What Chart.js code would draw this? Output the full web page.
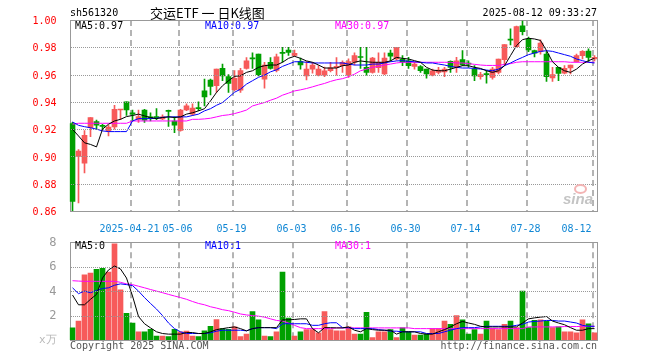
<!DOCTYPE html>
<html><head><meta charset="utf-8">
<script src="https://cdn.jsdelivr.net/npm/chart.js@4.4.1/dist/chart.umd.min.js"></script>
<style>
html,body{margin:0;padding:0;background:#fff;width:660px;height:360px;overflow:hidden;}
#wrap{position:relative;width:660px;height:360px;background:#fff;}
canvas{position:absolute;left:0;}
.t{position:absolute;white-space:pre;font:10px 'DejaVu Sans Mono',monospace;line-height:12px;color:#000;}
#logo{position:absolute;left:574px;top:184px;width:13px;height:10px;border-radius:50%;border:2px solid #f3b4b4;box-sizing:border-box;}
</style></head><body>
<div id="wrap">
<canvas id="pc" width="660" height="232" style="top:0;width:660px;height:232px"></canvas>
<canvas id="vc" width="660" height="130" style="top:230px;width:660px;height:130px"></canvas>
<div class="t" style="left:70px;top:7px;">sh561320</div>
<div class="t" style="left:150px;top:4px;font:13px 'Noto Sans CJK SC',sans-serif;line-height:17px;">交运ETF 一 日K线图</div>
<div class="t" style="right:63px;top:7px;">2025-08-12 09:33:27</div>
<div class="t" id="l1" style="left:75px;top:20px;color:#000;"></div>
<div class="t" id="l2" style="left:205px;top:20px;color:#0000ff;"></div>
<div class="t" id="l3" style="left:335px;top:20px;color:#ff00ff;"></div>
<div class="t" id="v1" style="left:75px;top:240px;color:#000;"></div>
<div class="t" id="v2" style="left:205px;top:240px;color:#0000ff;"></div>
<div class="t" id="v3" style="left:335px;top:240px;color:#ff00ff;"></div>
<div id="logo"></div>
<div class="t" style="left:563px;top:191px;font:italic bold 15px 'Liberation Sans',sans-serif;line-height:16px;color:#c4c4c4;">sina</div>
<div class="t" style="left:70px;top:340px;color:#555;">Copyright 2025 SINA.COM</div>
<div class="t" style="right:63px;top:340px;color:#555;">http://finance.sina.com.cn</div>
</div>
<script>
const dates = ['2025-04-07','2025-04-08','2025-04-09','2025-04-10','2025-04-11','2025-04-14','2025-04-15','2025-04-16','2025-04-17','2025-04-18','2025-04-21','2025-04-22','2025-04-23','2025-04-24','2025-04-25','2025-04-28','2025-04-29','2025-04-30',
'2025-05-06','2025-05-07','2025-05-08','2025-05-09','2025-05-12','2025-05-13','2025-05-14','2025-05-15','2025-05-16','2025-05-19','2025-05-20','2025-05-21','2025-05-22','2025-05-23','2025-05-26','2025-05-27','2025-05-28','2025-05-29','2025-05-30',
'2025-06-03','2025-06-04','2025-06-05','2025-06-06','2025-06-09','2025-06-10','2025-06-11','2025-06-12','2025-06-13','2025-06-16','2025-06-17','2025-06-18','2025-06-19','2025-06-20','2025-06-23','2025-06-24','2025-06-25','2025-06-26','2025-06-27','2025-06-30',
'2025-07-01','2025-07-02','2025-07-03','2025-07-04','2025-07-07','2025-07-08','2025-07-09','2025-07-10','2025-07-11','2025-07-14','2025-07-15','2025-07-16','2025-07-17','2025-07-18','2025-07-21','2025-07-22','2025-07-23','2025-07-24','2025-07-25','2025-07-28','2025-07-29','2025-07-30','2025-07-31',
'2025-08-01','2025-08-04','2025-08-05','2025-08-06','2025-08-07','2025-08-08','2025-08-11','2025-08-12'];

const opens = [0.924,0.900,0.895,0.921,0.9255,0.9225,0.9187,0.9216,0.934,0.940,
0.932,0.9272,0.934,0.929,0.929,0.9275,0.9335,0.926,0.919,0.934,
0.931,0.9355,0.948,0.956,0.9518,0.9645,0.9585,0.949,0.9486,0.9645,
0.972,0.975,0.9567,0.969,0.963,0.9757,0.978,0.974,0.9695,0.959,
0.964,0.9596,0.9596,0.9628,0.965,0.9665,0.960,0.969,0.9728,0.9653,
0.9616,0.965,0.9604,0.9758,0.9714,0.9714,0.970,0.966,0.9658,0.964,
0.9596,0.9616,0.962,0.9697,0.9653,0.971,0.9678,0.964,0.9584,0.9604,
0.958,0.9616,0.971,0.9856,0.9805,0.9957,0.986,0.9775,0.977,0.9751,
0.9575,0.9653,0.961,0.9648,0.9694,0.9739,0.9773,0.9714];

const closes = [0.867,0.904,0.9155,0.9285,0.923,0.922,0.9216,0.9346,0.9346,0.934,
0.931,0.9292,0.9265,0.928,0.9285,0.929,0.933,0.923,0.934,0.937,
0.9355,0.935,0.9437,0.9513,0.964,0.959,0.9535,0.9572,0.963,0.970,
0.9715,0.960,0.967,0.9645,0.973,0.9755,0.9763,0.9756,0.967,0.964,
0.967,0.964,0.9628,0.965,0.966,0.969,0.9695,0.974,0.9725,0.9616,
0.972,0.969,0.972,0.9734,0.980,0.969,0.9665,0.9677,0.9628,0.9604,
0.9628,0.9633,0.964,0.9653,0.970,0.967,0.9677,0.9591,0.960,0.960,
0.964,0.9714,0.982,0.9852,0.9951,0.9915,0.978,0.9756,0.983,0.9584,
0.960,0.9609,0.9645,0.967,0.974,0.977,0.9726,0.9726];

const highs = [0.925,0.905,0.919,0.9285,0.9267,0.9236,0.923,0.9375,0.9346,0.940,
0.934,0.934,0.9345,0.932,0.935,0.9305,0.934,0.929,0.9345,0.9385,
0.9385,0.940,0.9567,0.9567,0.964,0.9677,0.960,0.963,0.9645,0.9725,
0.976,0.975,0.969,0.9725,0.975,0.980,0.980,0.978,0.972,0.9695,
0.969,0.9665,0.9655,0.969,0.9725,0.970,0.9715,0.976,0.980,0.980,
0.9726,0.976,0.976,0.978,0.980,0.9739,0.9726,0.969,0.9665,0.964,
0.964,0.9653,0.9653,0.970,0.9726,0.9775,0.970,0.9665,0.9616,0.963,
0.9653,0.9714,0.982,0.9935,0.9955,0.9993,0.9874,0.978,0.9855,0.9768,
0.9653,0.9653,0.9665,0.967,0.975,0.9775,0.9788,0.974];

const lows = [0.860,0.866,0.888,0.9145,0.920,0.920,0.915,0.920,0.927,0.930,
0.926,0.925,0.925,0.926,0.927,0.927,0.922,0.9175,0.9185,0.9335,
0.930,0.9335,0.937,0.945,0.947,0.9555,0.947,0.948,0.947,0.964,
0.9645,0.959,0.950,0.964,0.962,0.969,0.974,0.9733,0.964,0.956,
0.961,0.959,0.9585,0.962,0.9595,0.9615,0.958,0.967,0.9645,0.9595,
0.961,0.9616,0.960,0.970,0.9705,0.9665,0.9645,0.964,0.9616,0.9574,
0.959,0.9604,0.9584,0.9616,0.9616,0.9665,0.9653,0.9555,0.9567,0.9537,
0.9567,0.9604,0.967,0.9818,0.980,0.989,0.9768,0.973,0.975,0.955,
0.955,0.9555,0.9604,0.9604,0.969,0.9714,0.969,0.970];

const ma5 = [0.9199,0.915,0.910,0.9088,0.907,0.920,0.9236,0.926,0.9272,0.9292,
0.930,0.931,0.9297,0.9285,0.9277,0.9285,0.929,0.9285,0.929,0.931,
0.932,0.9334,0.935,0.9407,0.9469,0.9518,0.9555,0.9587,0.9591,0.9616,
0.9628,0.9653,0.9665,0.967,0.967,0.969,0.9719,0.9734,0.9719,0.970,
0.969,0.967,0.9648,0.9648,0.9648,0.9665,0.967,0.969,0.970,0.9694,
0.969,0.969,0.969,0.970,0.9726,0.9719,0.9714,0.9702,0.969,0.9653,
0.9633,0.9628,0.9628,0.964,0.9653,0.9665,0.9665,0.9653,0.9645,0.9628,
0.9616,0.9628,0.9665,0.9739,0.9812,0.9856,0.9866,0.9861,0.985,0.9776,
0.9694,0.9653,0.9628,0.9616,0.964,0.9677,0.9702,0.9719];

const ma10 = [0.9253,0.9228,0.9218,0.921,0.920,0.9187,0.9182,0.9182,0.9182,0.9182,
0.926,0.9277,0.9277,0.9277,0.928,0.9287,0.929,0.929,0.929,0.929,
0.930,0.931,0.9334,0.935,0.9375,0.9395,0.9432,0.947,0.9493,0.953,
0.9555,0.958,0.9596,0.962,0.9635,0.966,0.9677,0.9694,0.9694,0.969,
0.9685,0.9685,0.9685,0.9685,0.9685,0.9685,0.9677,0.967,0.967,0.967,
0.9677,0.9677,0.9685,0.9694,0.970,0.9702,0.9697,0.9694,0.969,0.9685,
0.9685,0.9677,0.967,0.966,0.9653,0.9648,0.9648,0.9645,0.964,0.9633,
0.9628,0.964,0.9665,0.9685,0.9707,0.9726,0.9746,0.9758,0.977,0.9775,
0.977,0.9758,0.9746,0.9734,0.9714,0.9702,0.969,0.9685];

const ma30 = [0.9236,0.9243,0.9243,0.9243,0.9243,0.9243,0.9243,0.9243,0.9243,0.9243,
0.926,0.926,0.926,0.926,0.926,0.926,0.926,0.926,0.926,0.926,
0.9272,0.9272,0.9275,0.928,0.929,0.930,0.9305,0.9314,0.9326,0.934,
0.937,0.9383,0.9395,0.9412,0.9427,0.9449,0.9464,0.948,0.9488,0.9498,
0.951,0.9523,0.9535,0.955,0.9562,0.957,0.9584,0.9603,0.9628,0.964,
0.9653,0.966,0.967,0.9677,0.9685,0.969,0.969,0.969,0.969,0.969,
0.969,0.969,0.969,0.969,0.9685,0.9685,0.968,0.9675,0.967,0.9667,
0.9667,0.9667,0.9675,0.968,0.969,0.9694,0.9694,0.9694,0.9694,0.9694,
0.9694,0.9694,0.9694,0.969,0.969,0.969,0.969,0.969];

const volumes = [0.99,1.55,5.33,5.47,5.79,5.87,5.55,7.87,4.1,2.19,
1.39,0.67,0.67,0.88,0.32,0.32,0.27,0.88,0.67,0.72,
0.32,0.27,0.75,1.12,1.68,0.93,0.88,1.07,0.27,0.48,
2.32,1.65,0.32,0.27,0.67,5.55,1.79,0.32,0.67,0.85,
0.85,0.59,2.32,0.85,0.75,0.75,1.07,0.48,0.48,2.27,
0.19,0.67,0.67,0.85,0.19,0.99,0.67,0.4,0.4,0.48,
0.93,0.93,1.55,1.28,2.0,1.65,0.48,0.85,0.48,1.55,
0.93,0.85,1.28,1.55,1.01,4.0,1.01,1.6,1.65,1.55,
1.01,1.07,0.67,0.67,0.59,1.65,1.33,0.59];

const vma5 = [3.68,2.88,2.88,3.33,3.73,5.07,5.73,6.05,5.81,5.07,
3.6,1.92,1.33,0.99,0.67,0.53,0.48,0.48,0.48,0.61,
0.61,0.53,0.53,0.67,0.85,0.93,1.01,1.07,0.93,0.75,
0.93,1.01,1.01,1.01,1.01,1.65,1.65,1.68,1.73,1.73,
0.93,0.59,1.01,1.01,0.99,0.99,1.07,0.8,0.67,0.93,
0.85,0.8,0.8,0.8,0.48,0.67,0.67,0.67,0.53,0.48,
0.48,0.67,0.85,1.07,1.33,1.52,1.39,1.28,1.12,1.07,
1.07,1.07,1.07,1.07,1.07,1.39,1.73,1.81,1.87,1.92,
1.55,1.39,1.25,1.01,0.8,0.8,0.93,0.93];

const vma10 = [4.27,3.79,4.0,3.87,4.05,4.21,4.27,4.48,4.59,4.53,
4.45,4.0,3.47,2.99,2.53,2.0,1.39,0.93,0.67,0.53,
0.53,0.53,0.53,0.59,0.72,0.8,0.8,0.8,0.8,0.75,
0.93,1.01,1.01,1.01,0.93,1.33,1.33,1.33,1.33,1.33,
1.2,1.2,1.33,1.41,1.41,1.01,1.01,0.93,0.93,0.93,
0.93,0.85,0.8,0.72,0.72,0.67,0.67,0.67,0.67,0.53,
0.53,0.53,0.67,0.8,0.93,1.01,1.01,1.01,1.07,1.12,
1.12,1.12,1.12,1.12,1.2,1.28,1.47,1.52,1.55,1.6,
1.6,1.55,1.55,1.47,1.39,1.2,1.12,1.12];

const vma30 = [4.85,4.82,4.8,4.8,4.8,4.8,4.8,4.8,4.72,4.59,
4.53,4.4,4.27,4.13,4.0,3.87,3.73,3.6,3.47,3.33,
3.15,2.99,2.88,2.72,2.61,2.48,2.4,2.27,2.13,2.05,
2.0,1.95,1.87,1.73,1.6,1.55,1.39,1.2,1.01,0.93,
0.93,0.93,0.93,0.93,0.99,0.99,0.99,0.99,0.99,0.99,
0.99,0.99,0.99,0.99,0.99,0.99,0.99,0.93,0.93,0.93,
0.93,0.93,0.93,0.93,0.93,0.93,0.93,0.93,0.93,0.93,
0.93,0.93,0.93,0.93,0.93,0.93,1.07,1.07,1.07,1.07,
1.07,1.07,1.1,1.1,1.1,1.12,1.12,1.12];

const priceTicks = [0.86,0.88,0.90,0.92,0.94,0.96,0.98,1.00];
const volTicks = [0,2,4,6,8];
const volTickTexts = ['x万','2','4','6','8'];
const xTickDates = ['2025-04-21','2025-05-06','2025-05-19','2025-06-03','2025-06-16','2025-06-30','2025-07-14','2025-07-28','2025-08-12'];
const xTickTexts = ['2025-04-21','05-06','05-19','06-03','06-16','06-30','07-14','07-28','08-12'];

const UP = '#f75a5a', DOWN = '#00a000';
const MONO = "'DejaVu Sans Mono', monospace";
const colors = closes.map((c, i) => c >= opens[i] ? UP : DOWN);
const last = a => a[a.length - 1];

document.getElementById('l1').textContent = 'MA5:' + last(ma5).toFixed(2);
document.getElementById('l2').textContent = 'MA10:' + last(ma10).toFixed(2);
document.getElementById('l3').textContent = 'MA30:' + last(ma30).toFixed(2);
document.getElementById('v1').textContent = 'MA5:' + Math.floor(last(vma5));
document.getElementById('v2').textContent = 'MA10:' + Math.floor(last(vma10));
document.getElementById('v3').textContent = 'MA30:' + Math.floor(last(vma30));

// vertical dashed lines + frame (behind the data), positioned through the chart's own scales
function gridFramePlugin() {
  return {
    id: 'gridFrame',
    beforeDatasetsDraw(chart) {
      const {ctx, chartArea: a, scales} = chart;
      const xs = scales.x;
      ctx.save();
      const step = xs.getPixelForValue(1) - xs.getPixelForValue(0);
      ctx.lineWidth = 2;
      ctx.strokeStyle = '#b4b4b4';
      ctx.setLineDash([6, 4]);
      xTickDates.forEach(d => {
        const i = dates.indexOf(d);
        const px = Math.ceil(xs.getPixelForValue(i) - step / 2) + 1;
        ctx.beginPath(); ctx.moveTo(px, a.top); ctx.lineTo(px, a.bottom); ctx.stroke();
      });
      ctx.setLineDash([]);
      ctx.strokeStyle = '#999';
      ctx.lineWidth = 1;
      const l = Math.round(a.left) + 0.5, t = Math.round(a.top) + 0.5;
      const r = Math.round(a.right) - 0.5, b = Math.round(a.bottom) + 0.5;
      ctx.strokeRect(l, t, r - l, b - t);
      ctx.restore();
    }
  };
}
// horizontal dotted lines at the y-axis ticks
function hDotsPlugin() {
  return {
    id: 'hDots',
    afterDraw(chart) {
      const ctx = chart.ctx, a = chart.chartArea, ys = chart.scales.y;
      ctx.save();
      ctx.setLineDash([]);
      ctx.globalCompositeOperation = 'source-over';
      ctx.fillStyle = '#999999';
      const x0 = Math.round(a.left) + 1, x1 = Math.round(a.right) - 1;
      ys.ticks.forEach(t => {
        let p = ys.getPixelForValue(t.value);
        if (!isFinite(p)) return;
        const py = Math.round(p);
        if (py <= Math.round(a.top) || py >= Math.round(a.bottom)) return;
        for (let x = x0; x < x1; x += 2) ctx.fillRect(x, py, 1, 1);
      });
      ctx.restore();
    }
  };
}

function xScale(showLabels, h) {
  return {
    type: 'category', offset: true,
    grid: {display: false},
    border: {display: false},
    ticks: {display: showLabels, autoSkip: false, maxRotation: 0, minRotation: 0, labelOffset: -3, padding: 4,
      color: '#0f86d4', font: {family: MONO, size: 10},
      callback: v => {
        const k = xTickDates.indexOf(dates[v]);
        if (k < 0) return '';
        return k === xTickDates.length - 1 ? xTickTexts[k] + '     ' : xTickTexts[k];
      }},
    afterFit: s => { s.height = h; }
  };
}
function line(data, color) {
  return {type: 'line', data, borderColor: color, borderWidth: 1, pointRadius: 0, tension: 0, fill: false, order: 0};
}
const common = {
  responsive: false, animation: false, events: [],
  plugins: {legend: {display: false}, tooltip: {enabled: false}}
};

new Chart(document.getElementById('pc'), {
  type: 'bar',
  data: {
    labels: dates,
    datasets: [
      line(ma5, '#000000'), line(ma10, '#0000ff'), line(ma30, '#ff00ff'),
      {data: opens.map((o, i) => [o, closes[i]]), backgroundColor: colors, barThickness: 5, grouped: false, minBarLength: 1, order: 1},
      {data: lows.map((l, i) => [l, highs[i]]), backgroundColor: colors, barThickness: 1, grouped: false, order: 2}
    ]
  },
  options: Object.assign({}, common, {
    layout: {padding: {top: 20, right: 62.5, left: 0, bottom: 0}},
    scales: {
      x: xScale(true, 21),
      y: {
        min: 0.86, max: 1.00,
        afterBuildTicks: s => { s.ticks = priceTicks.map(v => ({value: v})); },
        grid: {display: false},
        border: {display: false},
        ticks: {padding: 5, labelOffset: 1.5, color: '#ff0000', font: {family: MONO, size: 10}, callback: v => Number(v).toFixed(2)},
        afterFit: s => { s.width = 69.5; }
      }
    }
  }),
  plugins: [gridFramePlugin(), hDotsPlugin()]
});

new Chart(document.getElementById('vc'), {
  type: 'bar',
  data: {
    labels: dates,
    datasets: [
      line(vma5, '#000000'), line(vma10, '#0000ff'), line(vma30, '#ff00ff'),
      {data: volumes, backgroundColor: colors, barThickness: 5, grouped: false, order: 1}
    ]
  },
  options: Object.assign({}, common, {
    layout: {padding: {top: 10, right: 62.5, left: 0, bottom: 0}},
    scales: {
      x: xScale(false, 20),
      y: {
        min: 0, max: 8,
        afterBuildTicks: s => { s.ticks = volTicks.map(v => ({value: v})); },
        grid: {display: false},
        border: {display: false},
        ticks: {padding: 5, labelOffset: 0.5,
          color: c => (c.tick && c.tick.value === 0) ? '#b8b8b8' : '#999999',
          font: c => ({family: MONO, size: (c.tick && c.tick.value === 0) ? 11 : 12}),
          callback: v => volTickTexts[volTicks.indexOf(v)]},
        afterFit: s => { s.width = 69.5; }
      }
    }
  }),
  plugins: [gridFramePlugin(), hDotsPlugin()]
});
</script>
</body></html>
